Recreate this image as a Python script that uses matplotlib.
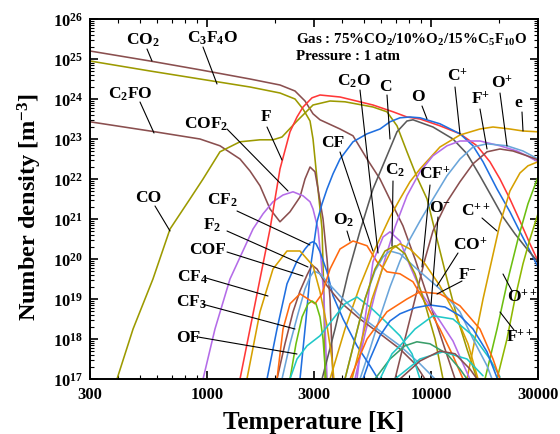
import numpy as np
import matplotlib
matplotlib.use('Agg')
import matplotlib.pyplot as plt
from matplotlib.ticker import FixedLocator, LogLocator, NullFormatter, FuncFormatter

plt.rcParams['font.family'] = ['Liberation Serif', 'DejaVu Serif']
plt.rcParams['font.weight'] = 'bold'
plt.rcParams['mathtext.fontset'] = 'custom'
plt.rcParams['mathtext.rm'] = 'Liberation Serif:bold'
plt.rcParams['mathtext.bf'] = 'Liberation Serif:bold'
plt.rcParams['mathtext.it'] = 'Liberation Serif:bold:italic'
plt.rcParams['mathtext.default'] = 'rm'

# ---------------- data: temperature [K] and log10(number density [m^-3]) ----------------
CO2_T = [300, 556, 929, 1554, 2115, 2468, 2735, 2970, 3191, 3920, 4480, 5175, 5912, 6760, 7485, 8475, 9390, 10410, 11530, 12790]
CO2_logn = [25.2, 24.95, 24.73, 24.5, 24.35, 24.2, 23.95, 23.63, 23.48, 23.25, 23.08, 22.5, 22.0, 21.33, 20.83, 20.0, 19.25, 18.5, 17.75, 17.0]

C3F4O_T = [300, 556, 929, 1554, 2115, 2468, 2680, 2880, 2970, 3094, 3191, 3258, 3325, 3360]
C3F4O_logn = [24.95, 24.7, 24.5, 24.3, 24.15, 24.0, 23.75, 23.45, 23.0, 22.0, 21.25, 20.75, 19.0, 17.0]

C2FO_T = [300, 556, 929, 1141, 1402, 1554, 1722, 1909, 2115, 2344, 2598, 2735, 2880, 3031, 3126, 3292, 3430, 3537, 3648]
C2FO_logn = [23.43, 23.2, 23.0, 22.83, 22.5, 22.2, 21.83, 21.25, 20.93, 21.18, 21.55, 22.0, 22.3, 22.18, 21.75, 21.0, 20.0, 19.0, 17.0]

CO_T = [396, 467, 573, 683, 838, 959, 1141, 1402, 1722, 1968, 2159, 2519, 2970, 3537, 4125, 5500, 6350, 7040, 7800, 8640, 9590, 10620, 11770, 13050, 14460, 16030]
CO_logn = [17.0, 18.25, 19.5, 20.75, 21.5, 22.0, 22.68, 22.93, 22.98, 22.98, 23.05, 23.45, 23.85, 23.95, 23.93, 23.8, 23.68, 23.33, 22.68, 22.05, 21.5, 20.5, 19.5, 18.55, 17.75, 17.0]

COF2_T = [959, 1084, 1265, 1603, 1777, 1968, 2182, 2418, 2680, 2880, 2970, 3126, 3224, 3325, 3430]
COF2_logn = [17.0, 18.25, 19.5, 20.75, 21.13, 21.43, 21.6, 21.68, 21.58, 21.43, 21.25, 20.75, 20.0, 19.0, 17.0]

F_T = [1402, 1554, 1722, 1909, 2115, 2344, 2519, 2680, 2940, 3191, 3920, 5500, 6760, 7800, 8917, 10950, 13450, 16030, 18300, 20290, 22480, 24920, 27620, 30000]
F_logn = [17.0, 18.25, 19.5, 20.75, 22.25, 23.18, 23.55, 23.8, 24.03, 24.1, 24.05, 23.85, 23.68, 23.55, 23.5, 23.33, 23.13, 22.83, 22.43, 22.0, 21.5, 20.95, 20.38, 19.95]

O_T = [2598, 2764, 2909, 3094, 3258, 3430, 3648, 3920, 4480, 5175, 5912, 6552, 7260, 8046, 8917, 10950, 13450, 15380, 17050, 19690, 22480, 24920, 27620, 30000]
O_logn = [17.0, 18.5, 19.88, 20.93, 21.38, 21.75, 22.13, 22.5, 22.93, 23.13, 23.25, 23.43, 23.53, 23.55, 23.53, 23.38, 23.13, 22.83, 22.43, 21.75, 21.18, 20.68, 20.2, 19.8]

C_T = [3258, 3724, 4256, 4814, 5500, 6350, 7040, 7800, 8300, 10190, 12520, 14460, 16520, 18890, 20940, 23660, 26790, 30000]
C_logn = [17.0, 18.25, 19.63, 20.7, 21.75, 22.58, 23.18, 23.45, 23.48, 23.3, 23.0, 22.63, 22.08, 21.5, 21.05, 20.63, 20.25, 19.93]

e_T = [3537, 4125, 4814, 5615, 6552, 7260, 8046, 8917, 10950, 13450, 16520, 18890, 22480, 25710, 30000]
e_logn = [17.0, 18.25, 19.33, 20.25, 21.05, 21.5, 21.93, 22.25, 22.8, 23.1, 23.25, 23.3, 23.25, 23.2, 23.18]

Cp_T = [4573, 5070, 5615, 6225, 6900, 7800, 8917, 10190, 11770, 13450, 16520, 20290, 24170, 26790, 30000]
Cp_logn = [17.0, 18.13, 19.13, 20.0, 20.8, 21.58, 22.18, 22.58, 22.83, 22.95, 22.95, 22.83, 22.7, 22.58, 22.43]

Op_T = [4814, 5335, 5912, 6552, 7260, 8046, 8917, 10190, 11770, 13450, 15380, 17760, 21810, 25710, 30000]
Op_logn = [17.0, 17.75, 18.55, 19.3, 19.95, 20.5, 20.95, 21.5, 22.08, 22.5, 22.8, 22.88, 22.83, 22.7, 22.5]

Fp_T = [6900, 7640, 8475, 9390, 10190, 11770, 13450, 15380, 17760, 20290, 23200, 26790, 30000]
Fp_logn = [17.0, 18.0, 19.0, 20.0, 20.7, 21.43, 21.93, 22.38, 22.68, 22.75, 22.7, 22.58, 22.48]

Cpp_T = [14460, 15700, 17050, 18700, 20290, 22480, 24920, 27060, 30000]
Cpp_logn = [17.0, 18.0, 19.0, 20.0, 20.88, 21.7, 22.15, 22.33, 22.43]

Opp_T = [17400, 19690, 22040, 24420, 27060, 30000]
Opp_logn = [17.0, 18.25, 19.5, 20.5, 21.38, 22.05]

Fpp_T = [19690, 21810, 23660, 25710, 27620, 30000]
Fpp_logn = [17.0, 18.0, 19.0, 19.88, 20.5, 21.13]

CF2_T = [1851, 2051, 2273, 2519, 2735, 2880, 2970, 3063, 3191, 3430, 3648, 4045, 4666, 5335, 5795]
CF2_logn = [17.0, 18.25, 19.38, 19.95, 20.25, 20.4, 20.43, 20.38, 20.18, 19.68, 19.08, 18.5, 17.83, 17.33, 17.0]

F2_T = [2051, 2226, 2418, 2598, 2793, 2940, 3094, 3430, 3920, 4814, 5912, 7260, 8475, 9390]
F2_logn = [17.0, 17.88, 18.68, 19.2, 19.6, 19.85, 19.75, 19.33, 18.93, 18.5, 18.13, 17.75, 17.38, 17.0]

COF_T = [2159, 2344, 2545, 2735, 2880, 3000, 3191, 3430, 3920, 4814, 5912, 7260, 8917, 10410]
COF_logn = [17.0, 17.88, 18.63, 19.25, 19.55, 19.7, 19.63, 19.43, 19.08, 18.58, 18.2, 17.83, 17.38, 17.0]

CF4_T = [1506, 1722, 1968, 2273, 2598, 2970, 3191, 3430, 3609, 3680]
CF4_logn = [17.0, 18.68, 19.75, 20.2, 20.2, 19.83, 19.18, 18.33, 17.5, 17.0]

O2_T = [2051, 2182, 2344, 2598, 2821, 3031, 3258, 3537, 3920, 4480, 5175, 5733, 6350, 7260, 8300, 9590, 10950, 12520, 13880]
O2_logn = [17.0, 18.25, 18.88, 19.13, 19.0, 18.88, 19.13, 19.75, 20.25, 20.45, 20.33, 19.93, 19.68, 19.63, 19.43, 18.83, 18.25, 17.58, 17.0]

CF3_T = [2344, 2493, 2653, 2821, 2940, 3063, 3191, 3292, 3394]
CF3_logn = [17.0, 17.88, 18.55, 18.88, 18.95, 18.88, 18.55, 18.0, 17.0]

OF_T = [2344, 2519, 2793, 3191, 3648, 4125, 4666, 5335, 6225, 7260, 8220, 8917]
OF_logn = [17.0, 17.5, 17.83, 18.08, 18.5, 18.88, 19.05, 18.8, 18.45, 18.08, 17.63, 17.0]

CFp_T = [4666, 4915, 5225, 5500, 6100, 6552, 7260, 8046, 9200, 10950, 12520, 13880, 14900]
CFp_logn = [17.0, 18.0, 19.0, 19.93, 20.55, 20.68, 20.45, 19.83, 19.08, 18.45, 17.95, 17.38, 17.0]

C2O_T = [4125, 4573, 5070, 5615, 6100, 6552, 7260, 8640, 10950, 13450, 15380, 17760, 18700]
C2O_logn = [17.0, 18.0, 19.0, 19.7, 20.05, 20.2, 20.13, 19.75, 19.25, 18.68, 18.0, 17.33, 17.0]

COp_T = [4434, 4915, 5445, 6100, 6688, 7260, 8046, 9390, 10950, 12790, 14610, 16190]
COp_logn = [17.0, 18.0, 19.0, 19.8, 20.25, 20.38, 20.25, 19.88, 19.33, 18.63, 17.88, 17.0]

C2_T = [4125, 4573, 5070, 5615, 6225, 6900, 7640, 8475, 9390, 10410, 11300]
C2_logn = [17.0, 18.0, 19.0, 19.75, 20.2, 20.33, 20.13, 19.63, 18.88, 18.0, 17.0]

O2p_T = [5615, 6552, 7640, 8640, 9882, 11770, 13450, 14460]
O2p_logn = [17.0, 17.5, 17.83, 17.93, 17.88, 17.63, 17.25, 17.0]

CF2p_T = [5912, 6688, 7260, 8475, 10190, 12520, 15380, 18300, 20290]
CF2p_logn = [17.0, 17.63, 17.83, 18.25, 18.58, 18.5, 18.08, 17.5, 17.05]

F2p_T = [6900, 8917, 11300, 14460, 17050]
F2p_logn = [17.0, 17.5, 17.68, 17.5, 17.08]

Om_T = [4966, 5335, 5912, 6552, 7260, 8475, 9882, 11530, 13450, 15380, 17760, 19690]
Om_logn = [17.0, 17.5, 18.08, 18.45, 18.63, 18.78, 18.85, 18.8, 18.58, 18.25, 17.68, 17.03]

Fm_T = [4344, 5175, 6350, 7800, 8917, 10950, 13450, 16520, 18890, 20290]
Fm_logn = [17.0, 18.0, 18.68, 19.0, 19.18, 19.13, 18.83, 18.25, 17.5, 17.0]

C2p_T = [7260, 8917, 10950, 12790, 14900, 16030]
C2p_logn = [17.0, 17.45, 17.7, 17.63, 17.25, 17.0]

# ---------------- styles ----------------
RED = '#ff3838'
OLIVE = '#9c9a00'
BROWN = '#8a4f4f'
BLUE = '#1f6fe0'
GRAY = '#5a5a5a'
PURPLE = '#b46ce8'
GOLD = '#d6a000'
LBLUE = '#6aa5da'
ORANGE = '#ff6a10'
GREEN = '#6cbf10'
CYAN = '#20c8c8'
TEAL = '#3a9e6a'
YGREEN = '#8fb800'

series = [
    (CO2_T, CO2_logn, BROWN), (C3F4O_T, C3F4O_logn, OLIVE), (C2FO_T, C2FO_logn, BROWN),
    (CO_T, CO_logn, OLIVE), (COF2_T, COF2_logn, PURPLE), (F_T, F_logn, RED),
    (O_T, O_logn, BLUE), (C_T, C_logn, GRAY), (e_T, e_logn, GOLD),
    (Cp_T, Cp_logn, PURPLE), (Op_T, Op_logn, LBLUE), (Fp_T, Fp_logn, BROWN),
    (Cpp_T, Cpp_logn, GOLD), (Opp_T, Opp_logn, GREEN), (Fpp_T, Fpp_logn, YGREEN),
    (CF2_T, CF2_logn, BLUE), (F2_T, F2_logn, BROWN), (COF_T, COF_logn, LBLUE),
    (CF4_T, CF4_logn, GOLD), (O2_T, O2_logn, ORANGE), (CF3_T, CF3_logn, GREEN),
    (OF_T, OF_logn, CYAN), (CFp_T, CFp_logn, PURPLE), (C2O_T, C2O_logn, LBLUE),
    (COp_T, COp_logn, GOLD), (C2_T, C2_logn, OLIVE), (O2p_T, O2p_logn, TEAL),
    (CF2p_T, CF2p_logn, CYAN), (F2p_T, F2p_logn, CYAN), (Om_T, Om_logn, BLUE),
    (Fm_T, Fm_logn, ORANGE), (C2p_T, C2p_logn, BROWN),
]

fig = plt.figure(figsize=(5.6, 4.35), dpi=100)
W, H = 560.0, 435.0
ax = fig.add_axes([90 / W, 1 - 380 / H, 448 / W, 360 / H])

for T, L, c in series:
    ax.plot(T, 10 ** np.asarray(L), color=c, lw=1.15, solid_joinstyle='round', solid_capstyle='round')

ax.set_xscale('log')
ax.set_yscale('log')
ax.set_xlim(300, 30000)
ax.set_ylim(1e17, 1e26)

ax.xaxis.set_major_locator(FixedLocator([300, 1000, 3000, 10000, 30000]))
ax.xaxis.set_major_formatter(FuncFormatter(lambda v, p: f'{v:.0f}'))
ax.xaxis.set_minor_locator(LogLocator(base=10, subs=np.arange(2, 10), numticks=20))
ax.xaxis.set_minor_formatter(NullFormatter())
ax.yaxis.set_major_locator(LogLocator(base=10, numticks=20))
ax.yaxis.set_major_formatter(FuncFormatter(lambda v, p: r'$10^{%d}$' % round(np.log10(v))))
ax.yaxis.set_minor_locator(LogLocator(base=10, subs=np.arange(2, 10), numticks=20))
ax.yaxis.set_minor_formatter(NullFormatter())
ax.tick_params(which='both', direction='in', top=True, right=True)
ax.tick_params(which='major', length=6, width=1.2, labelsize=12, pad=5)
ax.tick_params(which='minor', length=3, width=0.8)
for s in ax.spines.values():
    s.set_linewidth(1.4)

fig.text(314 / W, 1 - 423 / H, 'Temperature [K]', ha='center', va='center', fontsize=18, weight='bold')
fig.text(30 / W, 1 - 207 / H, r'Number density [m$^{-3}$]', ha='center', va='center',
         fontsize=17.5, weight='bold', rotation=90)

def ref(px, py):
    return ((px - 90) / 448.0, (380 - py) / 360.0)

labels = [
    (r'CO$_2$', (143, 40), (147, 50), (152, 62)),
    (r'C$_3$F$_4$O', (213, 38), (203, 48), (217, 85)),
    (r'C$_2$FO', (130, 94), (140, 103), (154, 134)),
    (r'COF$_2$', (206, 124), (227, 130), (288, 192)),
    ('F', (266, 117), (267, 128), (282, 161)),
    ('CF', (333, 143), (340, 153), (373, 252)),
    (r'C$_2$O', (354, 81), (360, 91), (378, 254)),
    ('C', (385, 87), (387, 96), (390, 140)),
    ('O', (418, 97), (422, 107), (427, 120)),
    (r'C$^{+}$', (457, 77), (455, 88), (460, 135)),
    (r'F$^{+}$', (481, 100), (480, 110), (487, 150)),
    (r'O$^{+}$', (502, 84), (500, 94), (507, 147)),
    ('e', (518, 103), (522, 113), (523, 132)),
    ('CO', (148, 198), (155, 207), (170, 232)),
    (r'CF$_2$', (222, 200), (237, 212), (310, 246)),
    (r'F$_2$', (212, 225), (227, 232), (308, 268)),
    ('COF', (208, 250), (227, 253), (303, 277)),
    (r'CF$_4$', (193, 277), (206, 279), (268, 297)),
    (r'CF$_3$', (191, 302), (202, 305), (295, 330)),
    ('OF', (188, 338), (198, 338), (297, 355)),
    (r'O$_2$', (344, 220), (347, 232), (350, 242)),
    (r'C$_2$', (395, 170), (393, 182), (392, 247)),
    (r'CF$^{+}$', (435, 175), (430, 186), (422, 268)),
    (r'O$^{-}$', (440, 208), (438, 218), (431, 306)),
    (r'C$^{++}$', (476, 212), (482, 219), (497, 232)),
    (r'CO$^{+}$', (470, 246), (458, 254), (437, 287)),
    (r'F$^{-}$', (468, 275), (462, 282), (437, 295)),
    (r'O$^{++}$', (522, 298), (512, 292), (503, 275)),
    (r'F$^{++}$', (520, 338), (514, 331), (500, 313)),
]
for text, lp, p0, p1 in labels:
    ax.annotate('', xy=ref(*p1), xytext=ref(*p0), xycoords='axes fraction', textcoords='axes fraction',
                arrowprops=dict(arrowstyle='-', color='black', lw=0.8, shrinkA=0, shrinkB=0))
    ax.text(*ref(*lp), text, transform=ax.transAxes, ha='center', va='center', fontsize=12.5, weight='bold')

ax.text(*ref(296, 40), r'Gas : 75%CO$_2$/10%O$_2$/15%C$_5$F$_{10}$O', transform=ax.transAxes,
        ha='left', va='center', fontsize=10.8, weight='bold')
ax.text(*ref(296, 57), 'Pressure : 1 atm', transform=ax.transAxes,
        ha='left', va='center', fontsize=10.8, weight='bold')

fig.savefig('out.png', dpi=100)
